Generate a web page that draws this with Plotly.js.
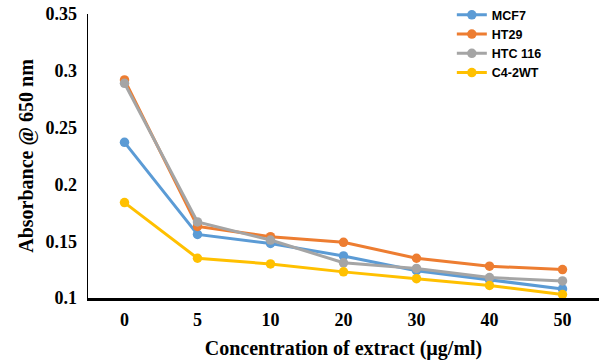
<!DOCTYPE html>
<html>
<head>
<meta charset="utf-8">
<script src="https://cdn.plot.ly/plotly-3.0.1.min.js"></script>
<style>body{margin:0;padding:0;background:#fff;} #chart{width:600px;height:360px;}</style>
</head>
<body>
<div id="chart"></div>
<script>
const concentrations = ["0", "5", "10", "20", "30", "40", "50"];
const mcf7 = [0.237, 0.156, 0.148, 0.137, 0.124, 0.116, 0.108];
const ht29 = [0.292, 0.163, 0.154, 0.149, 0.135, 0.128, 0.125];
const htc116 = [0.289, 0.167, 0.151, 0.131, 0.126, 0.118, 0.115];
const c42wt = [0.184, 0.135, 0.130, 0.123, 0.117, 0.111, 0.103];

const seriesNames = ["MCF7", "HT29", "HTC 116", "C4-2WT"];
const seriesValues = [mcf7, ht29, htc116, c42wt];
const colors = ["#5B9BD5", "#ED7D31", "#A5A5A5", "#FFC000"];
const yTicks = [0.1, 0.15, 0.2, 0.25, 0.3, 0.35];
const yTickText = ["0.1", "0.15", "0.2", "0.25", "0.3", "0.35"];

const traces = seriesValues.map((vals, i) => ({
  type: 'scatter',
  mode: 'lines+markers',
  name: seriesNames[i],
  x: concentrations,
  y: vals,
  line: {color: colors[i], width: 3},
  marker: {color: colors[i], size: 9.5}
}));

const serif = 'Liberation Serif, Times New Roman, serif';

const layout = {
  width: 600, height: 360,
  margin: {l: 88, r: 1, t: 13, b: 62},
  paper_bgcolor: '#fff', plot_bgcolor: '#fff',
  showlegend: true,
  legend: {
    x: 0.712, y: 1.045, xanchor: 'left', yanchor: 'top',
    font: {family: 'Liberation Sans, Arial, sans-serif', size: 12.5, color: '#000', weight: 'bold'},
    bgcolor: 'rgba(0,0,0,0)', tracegroupgap: 0
  },
  xaxis: {
    type: 'category',
    range: [-0.5, 6.5],
    showgrid: false, zeroline: false,
    showline: true, linecolor: '#000', linewidth: 2.5,
    ticks: '', ticklabelstandoff: 4,
    tickfont: {family: serif, size: 18, color: '#000', weight: 'bold'},
    title: {text: 'Concentration of extract (µg/ml)', standoff: 12,
      font: {family: serif, size: 20, color: '#000', weight: 'bold'}}
  },
  yaxis: {
    range: [0.1, 0.35],
    tickvals: yTicks,
    ticktext: yTickText,
    showgrid: false, zeroline: false,
    showline: true, linecolor: '#000', linewidth: 1.5,
    ticks: '', ticklabelstandoff: 6,
    tickfont: {family: serif, size: 18, color: '#000', weight: 'bold'},
    title: {text: 'Absorbance @ 650 nm', standoff: 6,
      font: {family: serif, size: 20, color: '#000', weight: 'bold'}}
  }
};

Plotly.newPlot('chart', traces, layout, {displayModeBar: false, staticPlot: true});
</script>
</body>
</html>
